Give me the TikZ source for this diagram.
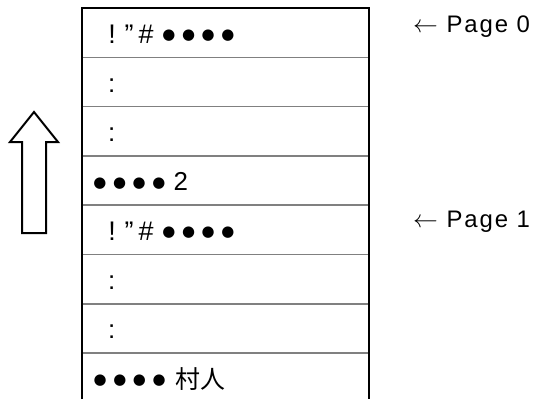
\documentclass[tikz,border=0pt]{standalone}
\usepackage{fontspec}
\setmainfont{Liberation Sans}
\newfontfamily\dotfont{DejaVu Sans}
\newfontfamily\jpfont{Noto Sans CJK JP}
\newfontfamily\pagefont[LetterSpace=8]{Liberation Sans}
\usetikzlibrary{arrows.meta}

\newcommand\cellbox[2]{\makebox[#1bp]{#2}}
\newcommand\blackdot{\cellbox{19.6}{\raisebox{3.5bp}{\fontsize{15}{15}\dotfont ●}}}
\newcommand\bulletrow{\blackdot\blackdot\blackdot\blackdot}
\newcommand\markhead{{\fontsize{27}{27}\selectfont\cellbox{17}{!}\cellbox{17}{”}\cellbox{17}{\#}}\hspace{4.5bp}\bulletrow}

\tikzset{
  frame/.style={line width=2bp,black},
  sepline/.style={line width=1.5bp,black!50},
  rowtext/.style={anchor=base west,inner sep=0pt,font=\fontsize{26}{28}\selectfont},
  pagelabel/.style={anchor=base west,inner sep=0pt,font=\fontsize{24}{26}\pagefont},
}

\begin{document}
\begin{tikzpicture}[x=1bp,y=-1bp]
  \useasboundingbox (0,0) rectangle (533,399);
  % stack of lines
  \draw[frame] (82,399) -- (82,8) -- (369,8) -- (369,399);
  \foreach \y in {57.3,106.6,155.9,205.2,254.5,303.8,353.1}
    \draw[sepline] (83,\y) -- (368,\y);
  \node[rowtext] (row0) at (103.5,43) {\markhead};
  \node[rowtext] (row1) at (108,92.3) {:};
  \node[rowtext] (row2) at (108,141.6) {:};
  \node[rowtext] (row3) at (90,190.9) {\bulletrow\hspace{5bp}2};
  \node[rowtext] (row4) at (103.5,240.2) {\markhead};
  \node[rowtext] (row5) at (108,289.5) {:};
  \node[rowtext] (row6) at (108,338.8) {:};
  \node[rowtext] (row7) at (90.2,388.1) {\bulletrow\hspace{7bp}{\fontsize{25}{25}\jpfont 村人}};
  % hollow arrow
  \draw[frame,line join=miter] (22,233) -- (22,142) -- (10,142) -- (34,112)
    -- (58,142) -- (46,142) -- (46,233) -- cycle;
  % page marks
  \node[pagelabel] (pg0) at (413,32) {{\fontsize{28}{28}\selectfont$\leftarrow$} Page 0};
  \node[pagelabel] (pg1) at (413,227) {{\fontsize{28}{28}\selectfont$\leftarrow$} Page 1};
\end{tikzpicture}
\end{document}
